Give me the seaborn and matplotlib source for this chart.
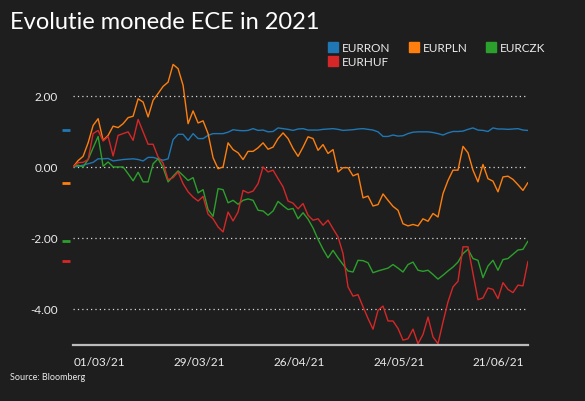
import matplotlib
matplotlib.use("Agg")
import matplotlib.pyplot as plt
from matplotlib.lines import Line2D
import matplotlib.transforms as mtransforms
import numpy as np
import pandas as pd
import seaborn as sns

# Cumulative change (%) since 01/03/21, one value per business day
eurron = [0.00, 0.02, 0.05, 0.09, 0.13, 0.23, 0.23, 0.24, 0.17, 0.19,
          0.21, 0.22, 0.23, 0.21, 0.17, 0.27, 0.27, 0.23, 0.19, 0.23,
          0.77, 0.92, 0.92, 0.75, 0.94, 0.80, 0.80, 0.89, 0.94, 0.94,
          0.94, 0.98, 1.05, 1.03, 1.02, 1.03, 1.08, 1.03, 1.04, 0.99,
          1.00, 1.10, 1.08, 1.06, 1.03, 1.07, 1.08, 1.04, 1.04, 1.04,
          1.06, 1.07, 1.08, 1.06, 1.03, 1.04, 1.05, 1.07, 1.08, 1.06,
          1.04, 0.99, 0.86, 0.86, 0.90, 0.87, 0.88, 0.94, 0.98, 0.99,
          0.99, 0.99, 0.97, 0.94, 0.90, 0.96, 1.00, 1.00, 1.01, 1.06,
          1.10, 1.04, 1.03, 1.00, 1.10, 1.07, 1.07, 1.06, 1.07, 1.08,
          1.04, 1.03]
eurpln = [0.00, 0.18, 0.30, 0.68, 1.17, 1.36, 0.75, 0.89, 1.15, 1.11,
          1.22, 1.39, 1.43, 1.92, 1.83, 1.41, 1.88, 2.07, 2.27, 2.39,
          2.89, 2.77, 2.30, 1.22, 1.58, 1.24, 1.30, 0.94, 0.26, -0.05,
          0.00, 0.68, 0.49, 0.40, 0.21, 0.44, 0.44, 0.54, 0.68, 0.50,
          0.56, 0.80, 0.96, 0.80, 0.52, 0.30, 0.56, 0.85, 0.80, 0.47,
          0.63, 0.38, 0.49, -0.14, -0.02, -0.02, -0.25, -0.19, -0.87, -0.82,
          -1.10, -1.06, -0.76, -0.94, -1.11, -1.22, -1.60, -1.66, -1.62, -1.66,
          -1.46, -1.53, -1.31, -1.41, -0.75, -0.38, -0.09, -0.09, 0.58, 0.40,
          -0.09, -0.42, 0.07, -0.33, -0.40, -0.70, -0.28, -0.26, -0.35, -0.50,
          -0.66, -0.44]
eurczk = [0.00, 0.05, 0.00, 0.21, 0.54, 0.86, 0.02, 0.14, 0.00, 0.00,
          0.00, -0.19, -0.39, -0.15, -0.42, -0.42, 0.09, 0.23, -0.02, -0.42,
          -0.26, -0.11, -0.24, -0.38, -0.30, -0.73, -0.64, -1.20, -1.39, -0.61,
          -0.64, -1.01, -0.94, -1.05, -0.94, -0.90, -0.94, -1.22, -1.24, -1.36,
          -1.24, -0.97, -1.09, -1.20, -1.17, -1.46, -1.29, -1.47, -1.72, -2.04,
          -2.32, -2.56, -2.35, -2.56, -2.75, -2.93, -2.96, -2.63, -2.64, -2.70,
          -2.98, -2.93, -2.89, -2.85, -2.75, -2.85, -2.96, -2.75, -2.68, -2.91,
          -2.94, -2.91, -3.03, -3.16, -3.05, -2.93, -2.82, -2.68, -2.44, -2.32,
          -2.58, -2.63, -3.12, -2.79, -2.63, -2.91, -2.61, -2.58, -2.46, -2.34,
          -2.32, -2.09]
eurhuf = [0.00, 0.12, 0.13, 0.21, 0.94, 1.03, 0.73, 0.86, 0.31, 0.89,
          0.94, 0.99, 0.75, 1.34, 0.99, 0.64, 0.64, 0.28, 0.11, -0.36,
          -0.30, -0.14, -0.47, -0.70, -0.85, -0.96, -0.83, -1.33, -1.46, -1.69,
          -1.83, -1.27, -1.52, -1.27, -0.66, -0.73, -0.68, -0.47, 0.00, -0.14,
          -0.09, -0.33, -0.56, -0.96, -1.02, -1.18, -1.03, -1.36, -1.50, -1.46,
          -1.64, -1.50, -1.74, -1.97, -2.44, -3.38, -3.64, -3.60, -3.94, -4.27,
          -4.57, -4.04, -3.92, -4.34, -4.34, -4.55, -4.88, -4.84, -4.57, -4.98,
          -4.72, -4.23, -4.79, -4.98, -4.37, -3.80, -3.38, -3.22, -2.25, -2.25,
          -3.00, -3.74, -3.69, -3.41, -3.45, -3.71, -3.26, -3.45, -3.54, -3.33,
          -3.35, -2.66]

series_names = ["EURRON", "EURPLN", "EURCZK", "EURHUF"]
series_colors = ["#1f77b4", "#ff7f0e", "#2ca02c", "#d62728"]
tick_dates = ["2021-03-01", "2021-03-29", "2021-04-26", "2021-05-24", "2021-06-21"]
y_ticks = [-4, -2, 0, 2]

bg = "#1e1e1e"
fg = "#ececec"

dates = pd.bdate_range("2021-03-01", periods=len(eurron))
df = pd.DataFrame({"day": np.arange(len(dates)),
                   "EURRON": eurron, "EURPLN": eurpln,
                   "EURCZK": eurczk, "EURHUF": eurhuf})
long = df.melt(id_vars="day", var_name="pair", value_name="change")

sns.set_theme(style="dark")
plt.rcParams["font.family"] = ["Lato", "DejaVu Sans"]

fig = plt.figure(figsize=(5.85, 4.02), dpi=100, facecolor=bg)
ax = fig.add_axes([0.125, 0.139, 0.7775, 0.708])
ax.set_facecolor(bg)

sns.lineplot(data=long, x="day", y="change", hue="pair",
             hue_order=series_names, palette=series_colors,
             linewidth=1.0, legend=False, ax=ax)

# grid lines
for v in y_ticks:
    ax.axhline(v, color="#d8d8d8", linewidth=0.9, linestyle=(0, (1, 2.5)),
               zorder=0)

ax.set_xlim(0, len(dates) - 1)
ax.set_ylim(-5.02, 3.0)

# y ticks
ax.set_yticks(y_ticks)
ax.set_yticklabels([f"{v:.2f}" for v in y_ticks], color=fg, fontsize=8.5)
ax.tick_params(axis="y", length=0, pad=11)

# x ticks
tick_pos = [int(np.where(dates == pd.Timestamp(d))[0][0]) for d in tick_dates]
ax.set_xticks(tick_pos)
ax.set_xticklabels([pd.Timestamp(d).strftime("%d/%m/%y") for d in tick_dates],
                   color=fg, fontsize=8.5, ha="left")
ax.tick_params(axis="x", direction="inout", length=4, width=1,
               color="#bbbbbb", pad=6)
ax.set_xlabel("")
ax.set_ylabel("")

for side in ["top", "right", "left"]:
    ax.spines[side].set_visible(False)
ax.spines["bottom"].set_color("#bbbbbb")
ax.spines["bottom"].set_linewidth(1.6)
ax.grid(False)

# last-value markers left of the axis
trans = mtransforms.blended_transform_factory(ax.transAxes, ax.transData)
last_vals = [eurron[-1], eurpln[-1], eurczk[-1], eurhuf[-1]]
for val, col in zip(last_vals, series_colors):
    ax.plot([-0.015], [val], marker="_", markersize=6, markeredgewidth=2,
            color=col, transform=trans, clip_on=False)

# legend, laid out row by row
order = [0, 3, 1, 2]
handles = [Line2D([], [], marker="s", linestyle="", markersize=7,
                  color=series_colors[i]) for i in order]
fig.legend(handles, [series_names[i] for i in order], ncol=3,
           loc="upper left", bbox_to_anchor=(0.553, 0.905),
           frameon=False, fontsize=8.5, labelcolor=fg,
           handletextpad=0.35, columnspacing=1.6, handlelength=0.8,
           labelspacing=0.25, borderaxespad=0)

fig.text(0.017, 0.943, "Evolutie monede ECE in 2021", color="white",
         fontsize=17, va="center", ha="left")
fig.text(0.017, 0.06, "Source: Bloomberg", color=fg, fontsize=6.5,
         va="center", ha="left")

fig.savefig("out.png", dpi=100, facecolor=bg)
